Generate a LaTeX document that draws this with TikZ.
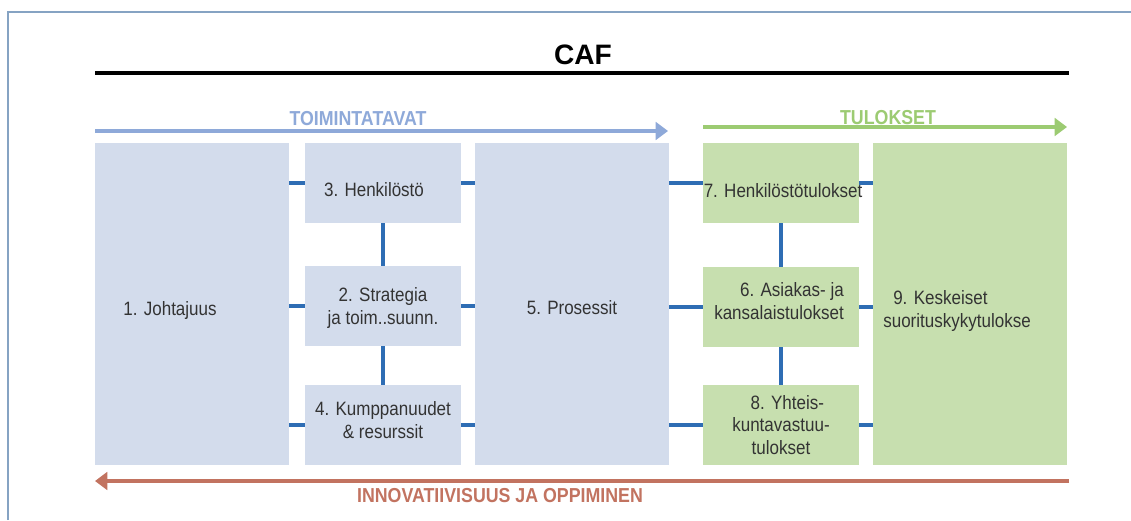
\documentclass[tikz,border=0pt]{standalone}
\usepackage{fontspec}
\setmainfont{Liberation Sans}
\newfontfamily\narrowfont{Liberation Sans}[FakeStretch=0.88]
\usetikzlibrary{arrows.meta}
\definecolor{boxblue}{HTML}{D3DCEC}
\definecolor{boxgreen}{HTML}{C7DFAF}
\definecolor{linkblue}{HTML}{2E6DB4}
\definecolor{arrblue}{HTML}{8EA9D9}
\definecolor{arrgreen}{HTML}{9CCB72}
\definecolor{arrred}{HTML}{C27360}
\definecolor{framec}{HTML}{86A3C3}
\definecolor{txtgray}{HTML}{333333}

\begin{document}
\begin{tikzpicture}[x=0.02cm, y=-0.02cm,
    bigbox/.style={inner sep=0pt, minimum width=3.88cm, minimum height=6.44cm},
    smallbox/.style={inner sep=0pt, minimum width=3.12cm, minimum height=1.6cm},
    boxtext/.style={text=txtgray, font=\narrowfont\fontsize{11}{13}\selectfont, align=center},
    link/.style={linkblue, line width=2pt},
    bigarrow/.style={line width=2.8pt, -{Triangle[length=7pt, width=10pt]}},
    heading/.style={font=\narrowfont\bfseries\fontsize{11.5}{13}\selectfont}]
    %%%%% START %%%%%

    \useasboundingbox[fill=white] (0,0) rectangle (1131,520);
    \draw[framec, line width=1.2pt] (8,520) -- (8,12) -- (1131,12);

    % title
    \node[font=\bfseries\fontsize{16}{18}\selectfont] (caf) at (583,55) {CAF};
    \draw[line width=2.8pt] (95,73) -- (1069,73);

    % top arrows
    \coordinate (tA) at (95,131);
    \coordinate (tB) at (668,131);
    \coordinate (uA) at (703,127);
    \coordinate (uB) at (1067,127);
    \draw[bigarrow, arrblue] (tA) -- (tB);
    \draw[bigarrow, arrgreen] (uA) -- (uB);
    \node[heading, text=arrblue] (toim) at (358,119) {TOIMINTATAVAT};
    \node[heading, text=arrgreen] (tul) at (888,118) {TULOKSET};

    % boxes
    \node[bigbox, fill=boxblue, label={[boxtext, xshift=-0.44cm, yshift=-0.14cm]center:1. Johtajuus}] (b1) at (192,304) {};
    \node[smallbox, fill=boxblue, label={[boxtext, xshift=-0.18cm, yshift=-0.14cm]center:3. Henkilöstö}] (b3) at (383,183) {};
    \node[smallbox, fill=boxblue, label={[boxtext, yshift=-0.04cm]center:2. Strategia\\ja toim..suunn.}] (b2) at (383,306) {};
    \node[smallbox, fill=boxblue, label={[boxtext, yshift=0.1cm]center:4. Kumppanuudet\\\& resurssit}] (b4) at (383,425) {};
    \node[bigbox, fill=boxblue, label={[boxtext, yshift=-0.08cm]center:5. Prosessit}] (b5) at (572,304) {};
    \node[smallbox, fill=boxgreen, label={[boxtext, xshift=0.04cm, yshift=-0.16cm]center:7. Henkilöstötulokset}] (b7) at (781,183) {};
    \node[smallbox, fill=boxgreen, label={[boxtext, align=right, xshift=-0.04cm, yshift=0.12cm]center:6. Asiakas- ja\\kansalaistulokset}] (b6) at (781,307) {};
    \node[smallbox, fill=boxgreen, label={[boxtext]center:\hspace*{0.25cm}8. Yhteis-\\kuntavastuu-\\tulokset}] (b8) at (781,425) {};
    \node[bigbox, fill=boxgreen, label={[boxtext, align=left, xshift=-0.26cm, yshift=-0.14cm]center:\hspace*{0.2cm}9. Keskeiset\\suorituskykytulokse}] (b9) at (970,304) {};

    % links
    \draw[link] (b1.east |- b3) -- (b3.west);
    \draw[link] (b1.east |- b2) -- (b2.west);
    \draw[link] (b1.east |- b4) -- (b4.west);
    \draw[link] (b3.east) -- (b5.west |- b3);
    \draw[link] (b2.east) -- (b5.west |- b2);
    \draw[link] (b4.east) -- (b5.west |- b4);
    \draw[link] (b3.south) -- (b2.north);
    \draw[link] (b2.south) -- (b4.north);
    \draw[link] (b5.east |- b7) -- (b7.west);
    \draw[link] (b5.east |- b6) -- (b6.west);
    \draw[link] (b5.east |- b8) -- (b8.west);
    \draw[link] (b7.east) -- (b9.west |- b7);
    \draw[link] (b6.east) -- (b9.west |- b6);
    \draw[link] (b8.east) -- (b9.west |- b8);
    \draw[link] (b7.south) -- (b6.north);
    \draw[link] (b6.south) -- (b8.north);

    % bottom arrow
    \coordinate (iA) at (1069,481);
    \coordinate (iB) at (95,481);
    \draw[bigarrow, arrred] (iA) -- (iB);
    \node[heading, text=arrred] (inno) at (500,496) {INNOVATIIVISUUS JA OPPIMINEN};

    %%%%% END %%%%%
\end{tikzpicture}
\end{document}
